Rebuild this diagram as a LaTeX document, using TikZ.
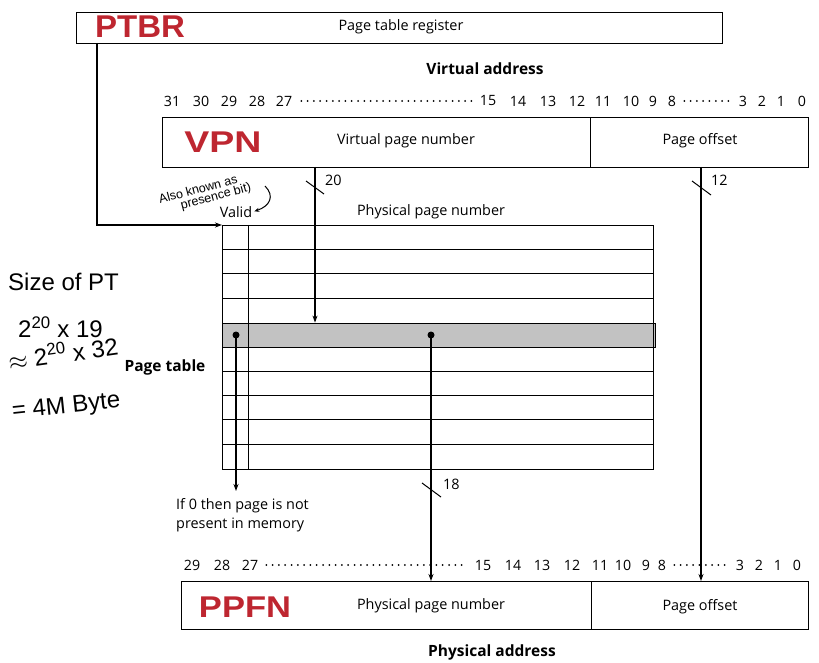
\documentclass[tikz,border=0pt]{standalone}
\usepackage{fontspec}
\setmainfont{Open Sans}
\newfontfamily\hand{Liberation Sans}
\newfontfamily\redfont{Liberation Sans}
\usetikzlibrary{arrows.meta}
\definecolor{hred}{RGB}{190,38,48}
\begin{document}
\begin{tikzpicture}[x=1pt,y=-1pt,
  lbl/.style={font=\fontsize{14.4}{17}\selectfont, inner sep=0pt},
  bit/.style={font=\fontsize{14.2}{16}\selectfont, inner sep=0pt},
  ttl/.style={font=\fontsize{15.5}{17}\selectfont\bfseries, inner sep=0pt},
  field/.style={draw, line width=1pt, anchor=north west, inner sep=0pt},
  conn/.style={line width=1.1pt, -{Stealth[length=7pt,width=5pt]}},
  wire/.style={line width=1pt},
  leader/.style={line width=2pt, line cap=round, dash pattern=on 0pt off 6.3pt},
  redhand/.style={text=hred, font=\redfont\fontsize{30}{32}\selectfont\bfseries, inner sep=0pt},
  note/.style={font=\hand\fontsize{24}{26}\selectfont, inner sep=0pt, anchor=west},
  smallnote/.style={font=\hand\fontsize{12.5}{13}\selectfont, inner sep=0pt, rotate=15},
  tick/.style={line width=1pt},
  dotnode/.style={circle, fill, inner sep=0pt, minimum size=7pt}
]
\useasboundingbox (0,0) rectangle (819,663);

% page table register
\node[field, minimum width=646, minimum height=31] (ptbr) at (76,12) {};
\node[redhand] (ptbrtxt) at (140,27) {\scalebox{1.1}[1.05]{PTBR}};
\node[lbl] (ptbrlbl) at (401,27) {Page table register};

% virtual address
\node[ttl] (vatitle) at (485,69) {Virtual address};
\foreach \n/\x in {31/172,30/201,29/229,28/257,27/284,15/488,14/518,13/548,12/577,11/603,10/631,9/653,8/672,3/743,2/762,1/781,0/802}
  \node[bit] (v\n) at (\x,101) {\n};
\draw[leader] ([xshift=9pt]v27.east) -- ([xshift=-8pt]v15.west);
\draw[leader] ([xshift=8pt]v8.east) -- ([xshift=-8pt]v3.west);

\node[field, minimum width=428, minimum height=50] (vpn) at (162,117) {};
\node[field, minimum width=218, minimum height=50] (voff) at (590,117) {};
\node[redhand] (vpntxt) at (223,142) {\scalebox{1.25}[1]{VPN}};
\node[lbl] (vpnlbl) at (406,141) {Virtual page number};
\node[lbl] (vofflbl) at (700,141) {Page offset};

% page table
\node[lbl] (valid) at (236,212) {Valid};
\node[lbl] (ppnhdr) at (431,212) {Physical page number};
\node[field, fill=black!24, minimum width=433, minimum height=24.4] (hl) at (222,322.6) {};
\node[field, minimum width=431, minimum height=243.6] (pt) at (222,225) {};
\foreach \y in {249.4,273.7,298.1,371.1,395.4,419.8,444.2}
  \draw[wire] (222,\y) -- (653,\y);
\draw[wire] (248,225) -- (248,468.6);
\node[ttl] (pttitle) at (165,367) {Page table};

% PTBR connector
\coordinate (ptbrout) at (97,43);
\draw[conn] (ptbrout) |- (pt.north west);

% VPN connector
\coordinate (vpnout) at (315,167);
\draw[conn] (vpnout) -- (vpnout |- hl.north);
\draw[tick] (306,181) -- (324,194);
\node[lbl, anchor=west] (n20) at (325,180) {20};

% offset connector
\node[field, minimum width=410, minimum height=48] (ppn) at (181,581) {};
\node[field, minimum width=217, minimum height=48] (poff) at (591,581) {};
\coordinate (offout) at (701,167);
\draw[conn] (offout) -- (offout |- poff.north);
\draw[tick] (692,181) -- (711,195);
\node[lbl, anchor=west] (n12) at (711,180) {12};

% dots and outputs
\node[dotnode] (vdot) at (236,335) {};
\node[dotnode] (pdot) at (431,335) {};
\coordinate (validend) at (236,491);
\draw[conn] (vdot.center) -- (validend);
\draw[conn] (pdot.center) -- (pdot |- ppn.north);
\draw[tick] (422,483) -- (441,497);
\node[lbl, anchor=west] (n18) at (443,484) {18};
\node[lbl, anchor=north west, align=left, font=\fontsize{14.4}{19}\selectfont] (ifzero) at (176,498) {If 0 then page is not\\present in memory};

% physical address
\foreach \n/\x in {29/192,28/222,27/250,15/483,14/513,13/542,12/572,11/600,10/623,9/646,8/662,3/740,2/759,1/778,0/797}
  \node[bit] (p\n) at (\x,565) {\n};
\draw[leader] ([xshift=8pt]p27.east) -- ([xshift=-7pt]p15.west);
\draw[leader] ([xshift=8pt]p8.east) -- ([xshift=-6pt]p3.west);
\node[redhand] (ppfntxt) at (245,607) {\scalebox{1.15}[1]{PPFN}};
\node[lbl] (ppnlbl) at (431,606) {Physical page number};
\node[lbl] (pofflbl) at (700,607) {Page offset};
\node[ttl] (patitle) at (492,652) {Physical address};

% handwritten notes
\node[note] (size1) at (8,282) {Size of PT};
\node[note] (size2) at (18,327) {2\textsuperscript{20} x 19};
\node[note, rotate=8] (size3) at (8,360) {$\approx$ 2\textsuperscript{20} x 32};
\node[note, rotate=6] (size4) at (12,413) {= 4M Byte};
\node[smallnote] (also1) at (198,189) {Also known as};
\node[smallnote] (also2) at (216,197) {presence bit)};
\coordinate (notearr) at (265,186);
\draw[line width=1pt, -{Stealth[length=5pt,width=4pt]}, shorten >=2pt] (notearr) .. controls (275,196) and (270,206) .. (valid.east);
\end{tikzpicture}
\end{document}
